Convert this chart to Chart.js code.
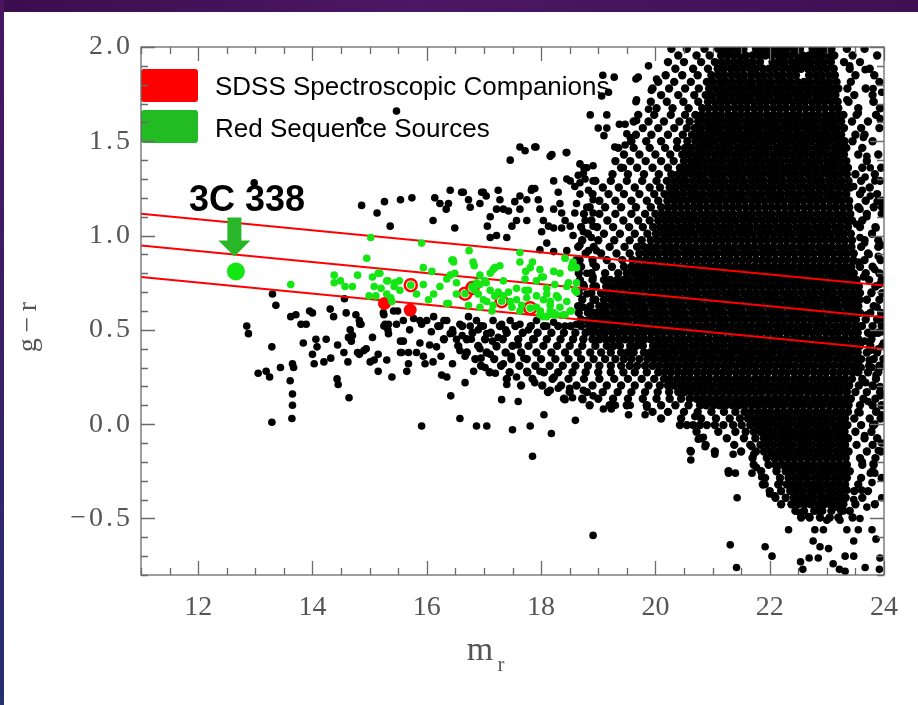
<!DOCTYPE html>
<html>
<head>
<meta charset="utf-8">
<script src="https://cdn.jsdelivr.net/npm/chart.js@4.4.1/dist/chart.umd.min.js"></script>
<style>
html, body { margin: 0; padding: 0; background: #fff; }
#wrap { position: relative; width: 918px; height: 705px; overflow: hidden; background: #fff; }
#topbar { position: absolute; left: 0; top: 0; width: 918px; height: 12px; background: linear-gradient(90deg, #3b0d4d, #4c1764 45%, #3e1053); }
#leftbar { position: absolute; left: 0; top: 0; width: 4px; height: 705px; background: linear-gradient(180deg, #4a1560, #3a1f66 50%, #24306f); }
#chart { position: absolute; left: 0; top: 0; }
</style>
</head>
<body>
<div id="wrap">
  <div id="topbar"></div>
  <div id="leftbar"></div>
  <canvas id="chart" width="918" height="705"></canvas>
</div>
<script>
// axis ticks
var xTicks = [12, 14, 16, 18, 20, 22, 24];
var yTicks = [-0.5, 0.0, 0.5, 1.0, 1.5, 2.0];

// red sequence fit: centre line at m_r = 11 and 24, and half width in g-r
var redSeqX = [11, 24];
var redSeqMid = [0.948, 0.567];
var redSeqHalf = 0.168;

// 3C 338 itself
var host3C338 = [[12.66, 0.81]];

// SDSS spectroscopic companions (filled = off the sequence, ring = on it)
var companionsFilled = [[15.26, 0.64], [15.71, 0.605]];
var companionsRing = [[15.72, 0.737], [16.67, 0.692], [16.80, 0.722], [17.31, 0.652], [17.81, 0.615]];

// red sequence sources (green)
var redSequence = [
  [13.62,0.74],[14.38,0.79],[14.38,0.75],[14.49,0.76],[14.57,0.73],[14.70,0.73],[14.79,0.79],[14.95,0.88],[15.02,0.99],[15.05,0.78],
  [15.15,0.80],[15.08,0.73],[15.20,0.72],[14.99,0.68],[15.32,0.76],[15.43,0.73],[15.52,0.76],[15.30,0.69],[15.37,0.67],[15.11,0.68],
  [15.91,0.96],[16.74,0.92],[17.63,0.91],[18.42,0.88],[16.44,0.87],[15.94,0.83],[16.09,0.81],[16.47,0.86],[16.83,0.84],[17.19,0.83],
  [17.11,0.80],[17.63,0.86],[17.85,0.86],[17.73,0.81],[18.04,0.78],[18.22,0.81],[18.33,0.80],[18.55,0.85],[18.62,0.83],[18.48,0.75],
  [18.62,0.75],[16.41,0.79],[16.52,0.75],[16.93,0.79],[17.04,0.75],[16.87,0.75],[15.18,0.80],[15.30,0.76],[15.44,0.75],[15.94,0.74],
  [16.23,0.73],[16.12,0.69],[16.03,0.66],[16.35,0.64],[15.39,0.65],[15.53,0.71],[15.82,0.69],[16.52,0.69],[16.79,0.73],[16.90,0.69],
  [16.99,0.66],[17.11,0.71],[17.19,0.68],[16.73,0.63],[16.93,0.62],[17.14,0.60],[17.34,0.68],[17.46,0.65],[17.57,0.66],[17.72,0.71],
  [17.75,0.67],[17.92,0.68],[18.04,0.66],[18.10,0.69],[18.16,0.63],[18.22,0.59],[18.33,0.62],[18.45,0.65],[18.53,0.60],[18.42,0.58],
  [18.04,0.57],[17.92,0.62],[18.59,0.71],[17.63,0.60],[18.53,0.83],[18.56,0.86],[18.42,0.88],[18.62,0.70],[18.27,0.68],[18.16,0.65],
  [18.51,0.60],[18.22,0.58],[17.99,0.60],[18.39,0.58],[17.28,0.84],[17.16,0.82],[17.02,0.76],[16.93,0.74],[16.84,0.71],[16.81,0.86],
  [16.46,0.87],[16.49,0.80],[16.35,0.77],[16.38,0.64],[17.05,0.65],[17.16,0.63],[17.49,0.62],[17.66,0.63],[17.78,0.71],[17.92,0.76],
  [18.01,0.78],[18.10,0.72],[18.24,0.74],[18.30,0.67],[18.45,0.73],[17.98,0.82],[17.81,0.83],[17.72,0.77],[17.57,0.72],[17.43,0.70],
  [17.34,0.76],[17.25,0.70],[18.16,0.60],[18.27,0.58],[17.98,0.58],[18.10,0.57],[15.72,0.737],[16.67,0.692],[16.80,0.722],[17.31,0.652],
  [17.81,0.615]
];

// black sources read one by one in the sparse parts of the diagram
var blackScatter = [
  [12.98,1.28],[14.86,1.16],[15.13,1.12],[15.26,1.18],[15.54,1.19],[15.36,1.05],[13.30,0.69],[13.36,0.63],[12.85,0.52],[12.88,0.48],
  [13.29,0.41],[13.05,0.27],[13.19,0.28],[13.25,0.25],[13.44,0.30],[13.65,0.32],[13.67,0.30],[13.61,0.23],[13.65,0.16],[13.65,0.10],
  [13.64,0.03],[13.29,0.01],[13.62,0.57],[13.71,0.58],[13.80,0.53],[13.89,0.53],[13.84,0.43],[13.95,0.60],[14.00,0.59],[14.06,0.45],
  [14.08,0.41],[14.00,0.37],[14.03,0.32],[14.20,0.33],[14.24,0.45],[14.32,0.35],[14.31,0.61],[14.37,0.57],[14.44,0.42],[14.55,0.38],
  [14.56,0.665],[14.59,0.59],[14.62,0.33],[14.43,0.24],[14.45,0.21],[14.64,0.14],[14.66,0.50],[14.70,0.47],[14.68,0.44],[14.76,0.58],
  [14.82,0.55],[14.85,0.53],[14.79,0.38],[14.82,0.37],[14.90,0.39],[14.94,0.40],[15.01,0.33],[15.08,0.34],[15.05,0.46],[15.15,0.37],
  [15.30,0.34],[15.15,0.28],[15.32,0.50],[15.25,0.52],[15.33,0.53],[15.25,0.58],[15.39,0.25],[15.49,0.60],[15.54,0.44],[15.54,0.38],
  [14.83,0.53],[14.63,0.46],[15.24,0.59],[15.27,0.53],[15.47,0.53],[15.33,0.48],[15.59,0.44],[15.56,0.38],[15.68,0.38],[15.68,0.32],
  [15.65,0.28],[15.77,0.56],[15.91,0.53],[15.88,0.43],[15.82,0.38],[15.94,0.36],[15.97,0.32],[16.08,0.49],[16.17,0.41],[16.11,0.33],
  [16.26,0.26],[16.35,0.25],[16.41,0.48],[16.52,0.45],[16.58,0.39],[16.67,0.36],[16.76,0.52],[16.78,0.45],[16.93,0.40],[16.82,0.28],
  [16.67,0.22],[17.02,0.30],[17.11,0.37],[17.05,0.48],[17.25,0.46],[17.22,0.41],[17.34,0.32],[17.40,0.21],[17.57,0.25],[17.31,0.13],
  [16.58,0.03],[16.87,-0.01],[17.05,-0.01],[17.50,-0.03],[17.81,-0.01],[18.18,-0.05],[17.85,-0.17],[18.60,0.02],[18.91,-0.59],[15.91,-0.01],
  [16.42,0.15],[17.89,0.22],[17.98,0.28],[17.75,0.28],[18.23,0.25],[18.42,0.13],[18.55,0.14],[18.73,0.13],[19.09,0.08],[19.23,0.08],
  [19.53,0.05],[19.82,0.05],[19.85,0.09],[19.56,0.10],[19.30,0.10],[18.91,0.15],[18.74,0.18],[18.50,0.19],[18.30,0.19],[18.16,0.18],
  [16.30,0.55],[16.45,0.50],[16.62,0.47],[16.90,0.50],[17.15,0.44],[17.38,0.50],[17.60,0.42],[17.48,0.36],[17.70,0.35],[17.88,0.45],
  [16.05,0.42],[16.25,0.36],[16.45,0.32],[16.95,0.35],[17.20,0.27],[17.60,0.12],[18.05,0.05],[16.00,0.55],[15.70,0.50],
  [15.42,0.60],[15.59,0.55],[15.88,0.55],[16.12,0.57],[16.23,0.52],[16.35,0.55],[16.58,0.53],[16.73,0.57],[16.87,0.55],[16.99,0.52],
  [17.16,0.55],[17.31,0.53],[17.46,0.55],[17.63,0.53],[17.78,0.50],[17.92,0.55],[18.10,0.52],[18.22,0.54],[18.42,0.52],[18.62,0.53],
  [18.80,0.55],[18.91,0.50],
  [15.74,1.20],[16.14,1.20],[16.23,1.17],[16.38,1.17],[16.41,1.24],[16.61,1.23],[16.73,1.19],[16.76,1.15],[16.34,1.14],[16.11,1.08],
  [16.49,1.04],[16.96,1.23],[17.04,1.21],[16.93,1.17],[17.11,1.10],[17.06,1.05],[17.25,1.24],[17.28,1.19],[17.34,1.14],[17.22,1.14],
  [17.43,1.13],[17.54,1.18],[17.63,1.21],[17.63,1.14],[17.75,1.19],[17.83,1.24],[17.89,1.25],[17.95,1.19],[17.98,1.14],[17.75,1.08],
  [17.57,1.08],[17.49,1.05],[17.40,0.99],[17.11,0.99],[17.22,1.00],[18.04,1.08],[18.01,1.02],[18.13,1.05],[18.22,1.04],[18.22,1.29],
  [18.19,1.43],[18.45,1.44],[17.63,1.47],[17.72,1.45],[17.89,1.47],[17.46,1.40],[18.30,1.23],[18.33,1.17],[18.36,1.12],[18.22,1.14],
  [18.42,1.08],[18.36,1.04],[18.51,1.05],[18.56,1.00],[18.59,1.12],[18.62,1.17],[18.68,1.22],[18.74,1.33],[18.80,1.36],[18.91,1.37],
  [18.68,1.38],[18.45,1.30],[18.91,1.29],[18.68,1.28],[18.83,1.24],[18.91,1.19],[18.80,1.15],[18.91,1.12],[18.77,1.08],[18.91,1.05],
  [18.74,1.02],[18.88,0.99],[18.68,0.95],[18.83,0.92],[18.97,0.92],[18.45,0.92],[18.10,0.96],[18.22,0.915],[17.98,0.925],[18.68,0.87],
  [18.91,0.85],[18.80,0.80],[18.91,0.78],[18.74,0.74],[18.91,0.73],[18.80,0.69],[18.91,0.66],[18.74,0.62],[18.86,0.59],[18.97,0.55],
  [19.08,1.85],[19.28,1.84],[19.06,1.74],[19.18,1.76],[19.66,1.83],[19.66,1.71],[18.86,1.64],[19.15,1.64],[19.00,1.57],[19.10,1.53],
  [19.15,1.57],[19.37,1.59],[19.47,1.59],[19.50,1.54],[19.56,1.52],[19.29,1.47],[19.47,1.48],[19.67,1.61],[17.91,1.47],[18.16,1.42],
  [18.44,1.44],[18.75,1.36],[18.65,1.32],[19.44,1.36],[18.51,1.29],[18.59,1.26],[18.77,1.30],[16.64,1.23],[16.99,1.23],[17.84,1.25],
  [19.70,1.84],[19.88,1.90],[20.02,1.83],[19.93,1.77],[19.67,1.72],[19.88,1.67],[15.47,1.66],[14.83,1.61],
  [20.69,0.04],[20.75,-0.08],[20.84,-0.07],[20.87,-0.12],[20.61,-0.14],[20.62,-0.19],[21.04,-0.16],[21.36,-0.16],[21.28,-0.26],[21.40,-0.26],
  [21.43,-0.39],[21.69,-0.12],[21.72,-0.16],[21.77,-0.23],[21.69,-0.26],[21.86,-0.28],[21.92,-0.32],[22.00,-0.37],[22.09,-0.38],[22.18,-0.31],
  [22.12,-0.24],[22.06,-0.17],[22.17,-0.17],[22.36,-0.17],[21.31,-0.64],[21.92,-0.65],[22.04,-0.70],[21.42,-0.76],[22.33,-0.56],[22.54,-0.73],
  [22.69,-0.71],[22.58,-0.77],[22.85,-0.71],[23.03,-0.66],[22.94,-0.56],[23.00,-0.51],[23.23,-0.51],[23.29,-0.46],[23.35,-0.56],[23.47,-0.62],
  [23.55,-0.56],[23.58,-0.50],[23.70,-0.44],[23.79,-0.56],[23.86,-0.61],[23.93,-0.71],[23.67,-0.76],[23.92,-0.77],[23.32,-0.70],[23.47,-0.70],
  [23.22,-0.77],[23.32,-0.78],[23.11,-0.74],[22.88,-0.65],[22.76,-0.62],[22.79,-0.56],[22.68,-0.49],[22.85,-0.46],[22.53,-0.47],[22.44,-0.40],
  [22.59,-0.40],[22.73,-0.37],[22.88,-0.32],[23.03,-0.40],[23.17,-0.44],[23.47,-0.40],[23.35,-0.35],[23.61,-0.35],[23.79,-0.31],[23.84,-0.26],
  [23.96,-0.39],[23.81,-0.21],[23.96,-0.10],[23.81,-0.01],[23.87,0.07],[23.96,0.05],[23.81,0.20],[23.93,0.20],[23.79,0.30],[23.93,0.30],
  [23.76,0.39],[23.96,0.49],[23.99,0.43],
  [23.67,1.88],[23.81,1.78],[23.96,1.76],[23.81,1.71],[23.93,1.62],[23.64,1.52],[23.70,1.42],[23.76,1.36],[23.67,1.31],[23.84,1.29],
  [23.96,1.15],[23.76,1.21],[23.47,1.26],[23.58,1.14],[23.79,1.01],[23.90,0.89],[23.58,0.99],[23.40,1.90],[23.35,1.72],[23.55,1.65],
  [23.62,1.24],[23.88,1.18],[23.70,1.10],[23.52,1.06],[23.86,1.04],[23.66,0.96],[23.96,0.95],[23.74,0.90],[23.55,0.86],[23.84,0.82],
  [23.64,0.78],[23.92,0.74],[23.78,0.70],[23.58,0.66],[23.88,0.62],[23.70,0.58],[23.96,0.56],[23.62,0.52],[23.82,0.48],[23.66,0.44],
  [23.90,0.40],[23.74,0.34],[23.60,0.30],[23.86,0.26],[23.68,0.22],[23.94,0.15],[23.72,0.12],[23.58,0.06],[23.84,0.00],[23.66,-0.06],
  [23.90,-0.14],[23.62,-0.20],[23.76,-0.26]
];

var cloudRowY = [1.990,1.955,1.920,1.885,1.850,1.815,1.780,1.745,1.710,1.675,1.640,1.605,1.570,1.535,1.500,1.465,1.430,1.395,1.360,1.325,
  1.290,1.255,1.220,1.185,1.150,1.115,1.080,1.045,1.010,0.975,0.940,0.905,0.870,0.835,0.800,0.765,0.730,0.695,0.660,0.625,
  0.590,0.555,0.520,0.485,0.450,0.415,0.380,0.345,0.310,0.275,0.240,0.205,0.170,0.135,0.100,0.065,0.030,-0.005,-0.040,-0.075,
  -0.110,-0.145,-0.180,-0.215,-0.250,-0.285,-0.320,-0.355,-0.390,-0.425,-0.460,-0.495];

var cloudRowX = [
  [20.28,20.55,20.86,21.10,21.21,21.31,21.43,21.54,21.76,21.87,21.97,22.09,22.20,22.29,22.42,22.53,22.75,22.86,22.95,23.08,23.35,23.66],
  [20.40,20.72,20.95,21.15,21.26,21.37,21.48,21.58,21.70,21.81,21.92,22.03,22.15,22.25,22.36,22.48,22.58,22.69,22.80,22.91,23.03,23.13,23.45,23.88],
  [20.22,20.50,20.80,21.04,21.16,21.26,21.38,21.49,21.60,21.71,21.83,22.05,22.16,22.27,22.39,22.50,22.61,22.72,22.84,22.95,23.07,23.30,23.58],
  [20.35,20.66,20.92,21.09,21.20,21.32,21.43,21.54,21.66,21.76,21.88,21.99,22.10,22.22,22.33,22.44,22.55,22.67,22.78,22.89,23.00,23.12,23.40,23.75],
  [20.18,20.47,20.74,20.98,21.10,21.21,21.33,21.44,21.55,21.67,21.78,21.89,22.01,22.12,22.23,22.35,22.46,22.69,22.80,22.91,23.03,23.14,23.50,23.83],
  [20.05,20.33,20.62,20.90,21.01,21.13,21.24,21.35,21.47,21.58,21.69,21.81,21.92,22.03,22.15,22.26,22.37,22.49,22.60,22.71,22.83,22.94,23.05,23.17,23.42,23.92],
  [19.95,20.24,20.52,20.76,20.94,21.06,21.17,21.29,21.40,21.51,21.63,21.74,21.85,21.97,22.08,22.19,22.31,22.42,22.53,22.65,22.76,22.87,22.99,23.10,23.20,23.36,23.68],
  [20.10,20.40,20.68,20.88,20.99,21.11,21.22,21.33,21.45,21.56,21.67,21.79,21.90,22.01,22.13,22.24,22.35,22.47,22.58,22.69,22.81,22.92,23.03,23.15,23.48,23.80],
  [19.92,20.20,20.49,20.75,20.92,21.04,21.15,21.26,21.38,21.49,21.60,21.72,21.83,21.94,22.06,22.17,22.28,22.40,22.51,22.62,22.74,22.85,22.96,23.08,23.19,23.38,23.82],
  [20.02,20.30,20.58,20.82,20.93,21.05,21.16,21.27,21.39,21.50,21.61,21.73,21.84,21.95,22.07,22.18,22.29,22.41,22.52,22.63,22.75,22.86,22.97,23.09,23.20,23.55,23.93],
  [19.70,19.98,20.27,20.52,20.70,20.81,20.93,21.04,21.15,21.27,21.38,21.49,21.61,21.72,21.83,21.95,22.06,22.17,22.29,22.40,22.51,22.63,22.74,22.85,22.97,23.08,23.19,23.29,23.52,23.86],
  [19.62,19.88,20.15,20.42,20.60,20.75,20.87,20.98,21.09,21.21,21.32,21.43,21.55,21.66,21.77,21.89,22.00,22.11,22.23,22.34,22.45,22.57,22.68,22.79,22.91,23.02,23.13,23.25,23.44,23.72],
  [19.78,20.05,20.33,20.55,20.69,20.80,20.92,21.03,21.14,21.26,21.37,21.48,21.60,21.71,21.82,21.94,22.05,22.16,22.28,22.39,22.50,22.62,22.73,22.84,22.96,23.07,23.18,23.30,23.60,23.92],
  [19.66,19.93,20.22,20.48,20.64,20.76,20.87,20.98,21.10,21.21,21.32,21.44,21.55,21.66,21.78,21.89,22.00,22.12,22.23,22.34,22.46,22.57,22.68,22.80,22.91,23.02,23.14,23.25,23.50,23.66],
  [19.58,19.84,20.10,20.38,20.56,20.70,20.82,20.93,21.04,21.16,21.27,21.38,21.50,21.61,21.72,21.84,21.95,22.06,22.18,22.29,22.40,22.52,22.63,22.74,22.86,22.97,23.08,23.20,23.31,23.45,23.80],
  [19.35,19.62,19.90,20.17,20.38,20.52,20.63,20.75,20.86,20.97,21.09,21.20,21.31,21.43,21.54,21.65,21.77,21.88,21.99,22.11,22.22,22.33,22.45,22.56,22.67,22.79,22.90,23.01,23.13,23.24,23.34,23.62],
  [19.45,19.72,20.00,20.26,20.47,20.58,20.70,20.81,20.92,21.04,21.15,21.26,21.38,21.49,21.60,21.72,21.83,21.94,22.06,22.17,22.28,22.40,22.51,22.62,22.74,22.85,22.96,23.08,23.19,23.30,23.55,23.90],
  [19.30,19.56,19.83,20.10,20.32,20.50,20.62,20.73,20.84,20.96,21.07,21.18,21.30,21.41,21.52,21.64,21.75,21.86,21.98,22.09,22.20,22.32,22.43,22.54,22.66,22.77,22.88,23.00,23.11,23.22,23.34,23.70],
  [19.40,19.68,19.95,20.22,20.43,20.55,20.66,20.77,20.89,21.00,21.11,21.23,21.34,21.45,21.57,21.68,21.79,21.91,22.02,22.13,22.25,22.36,22.47,22.59,22.70,22.81,22.93,23.04,23.15,23.27,23.37,23.62,23.95],
  [19.25,19.52,19.80,20.06,20.28,20.40,20.51,20.63,20.74,20.85,20.97,21.08,21.19,21.31,21.42,21.53,21.65,21.76,21.87,21.99,22.10,22.21,22.33,22.44,22.55,22.67,22.78,22.89,23.01,23.12,23.23,23.35,23.50,23.84],
  [18.95,19.22,19.50,19.77,20.02,20.20,20.32,20.43,20.54,20.66,20.77,20.88,21.00,21.11,21.22,21.34,21.45,21.56,21.68,21.79,21.90,22.02,22.13,22.24,22.36,22.47,22.58,22.70,22.81,22.92,23.04,23.15,23.26,23.38,23.60,23.93],
  [19.08,19.36,19.64,19.90,20.08,20.25,20.36,20.48,20.59,20.70,20.82,20.93,21.04,21.16,21.27,21.38,21.50,21.61,21.72,21.84,21.95,22.06,22.18,22.29,22.40,22.52,22.63,22.74,22.86,22.97,23.08,23.20,23.31,23.41,23.75],
  [18.90,19.18,19.45,19.72,19.98,20.16,20.28,20.39,20.50,20.62,20.73,20.84,20.96,21.07,21.18,21.30,21.41,21.52,21.64,21.75,21.86,21.98,22.09,22.20,22.32,22.43,22.54,22.66,22.77,22.88,23.00,23.11,23.22,23.34,23.58,23.88],
  [19.02,19.30,19.58,19.85,20.05,20.21,20.33,20.44,20.55,20.67,20.78,20.89,21.01,21.12,21.23,21.35,21.46,21.57,21.69,21.80,21.91,22.03,22.14,22.25,22.37,22.48,22.59,22.71,22.82,22.93,23.05,23.16,23.27,23.39,23.68,23.97],
  [18.85,19.12,19.40,19.66,19.92,20.10,20.22,20.33,20.44,20.56,20.67,20.78,20.90,21.01,21.12,21.24,21.35,21.46,21.58,21.69,21.80,21.92,22.03,22.14,22.26,22.37,22.48,22.60,22.71,22.82,22.94,23.05,23.16,23.28,23.39,23.55,23.82],
  [18.75,19.02,19.30,19.58,19.82,20.00,20.12,20.23,20.34,20.46,20.57,20.68,20.80,20.91,21.02,21.14,21.25,21.36,21.48,21.59,21.70,21.82,21.93,22.04,22.16,22.27,22.38,22.50,22.61,22.72,22.84,22.95,23.06,23.18,23.29,23.41,23.70,23.96],
  [18.88,19.16,19.44,19.70,19.90,20.05,20.17,20.28,20.39,20.51,20.62,20.73,20.85,20.96,21.07,21.19,21.30,21.41,21.53,21.64,21.75,21.87,21.98,22.09,22.21,22.32,22.43,22.55,22.66,22.77,22.89,23.00,23.11,23.23,23.34,23.44,23.62],
  [18.70,18.98,19.26,19.54,19.78,19.96,20.08,20.19,20.30,20.42,20.53,20.64,20.76,20.87,20.98,21.10,21.21,21.32,21.44,21.55,21.66,21.78,21.89,22.00,22.12,22.23,22.34,22.46,22.57,22.68,22.80,22.91,23.02,23.14,23.25,23.37,23.58,23.85],
  [18.82,19.10,19.38,19.64,19.86,20.01,20.13,20.24,20.35,20.47,20.58,20.69,20.81,20.92,21.03,21.15,21.26,21.37,21.49,21.60,21.71,21.83,21.94,22.05,22.17,22.28,22.39,22.51,22.62,22.73,22.85,22.96,23.07,23.19,23.30,23.42,23.79],
  [18.72,19.00,19.28,19.55,19.76,19.92,20.04,20.15,20.26,20.38,20.49,20.60,20.72,20.83,20.94,21.06,21.17,21.28,21.40,21.51,21.62,21.74,21.85,21.96,22.08,22.19,22.30,22.42,22.53,22.64,22.76,22.87,22.98,23.10,23.21,23.32,23.44,23.66,23.90],
  [18.65,18.92,19.20,19.46,19.68,19.80,19.91,20.02,20.14,20.25,20.36,20.48,20.59,20.70,20.82,20.93,21.04,21.16,21.27,21.38,21.50,21.61,21.72,21.84,21.95,22.06,22.18,22.29,22.40,22.52,22.63,22.74,22.86,22.97,23.08,23.20,23.31,23.43,23.60,23.90],
  [18.78,19.05,19.32,19.55,19.72,19.84,19.95,20.06,20.18,20.29,20.40,20.52,20.63,20.74,20.86,20.97,21.08,21.20,21.31,21.42,21.54,21.65,21.76,21.88,21.99,22.10,22.22,22.33,22.44,22.56,22.67,22.78,22.90,23.01,23.12,23.24,23.35,23.47,23.72],
  [18.62,18.90,19.15,19.42,19.60,19.72,19.83,19.94,20.06,20.17,20.28,20.40,20.51,20.62,20.74,20.85,20.96,21.08,21.19,21.30,21.42,21.53,21.64,21.76,21.87,21.98,22.10,22.21,22.32,22.44,22.55,22.66,22.78,22.89,23.00,23.12,23.23,23.34,23.46,23.66,23.94],
  [18.70,18.96,19.24,19.45,19.58,19.69,19.81,19.92,20.03,20.15,20.26,20.37,20.49,20.60,20.71,20.83,20.94,21.05,21.17,21.28,21.39,21.51,21.62,21.73,21.85,21.96,22.07,22.19,22.30,22.41,22.53,22.64,22.75,22.87,22.98,23.09,23.21,23.32,23.43,23.58,23.80],
  [18.66,18.88,19.12,19.35,19.50,19.62,19.73,19.84,19.96,20.07,20.18,20.30,20.41,20.52,20.64,20.75,20.86,20.98,21.09,21.20,21.32,21.43,21.54,21.66,21.77,21.88,22.00,22.11,22.22,22.34,22.45,22.56,22.68,22.79,22.90,23.02,23.13,23.24,23.36,23.47,23.68,23.92],
  [18.68,18.90,19.10,19.21,19.33,19.44,19.55,19.67,19.78,19.89,20.01,20.12,20.23,20.35,20.46,20.57,20.69,20.80,20.91,21.03,21.14,21.25,21.37,21.48,21.59,21.71,21.82,21.93,22.05,22.16,22.27,22.39,22.50,22.61,22.73,22.84,22.95,23.07,23.18,23.29,23.41,23.52,23.74,23.96],
  [18.75,18.96,19.14,19.26,19.37,19.48,19.60,19.71,19.82,19.94,20.05,20.16,20.28,20.39,20.50,20.62,20.73,20.84,20.96,21.07,21.18,21.30,21.41,21.52,21.64,21.75,21.86,21.98,22.09,22.20,22.32,22.43,22.54,22.66,22.77,22.88,23.00,23.11,23.22,23.34,23.45,23.56,23.85],
  [18.66,18.88,19.05,19.17,19.28,19.39,19.51,19.62,19.73,19.85,19.96,20.07,20.19,20.30,20.41,20.53,20.64,20.75,20.87,20.98,21.09,21.21,21.32,21.43,21.55,21.66,21.77,21.89,22.00,22.11,22.23,22.34,22.45,22.57,22.68,22.79,22.91,23.02,23.13,23.25,23.36,23.47,23.58,23.78,23.97],
  [18.72,18.95,19.10,19.22,19.33,19.44,19.56,19.67,19.78,19.90,20.01,20.12,20.24,20.35,20.46,20.58,20.69,20.80,20.92,21.03,21.14,21.26,21.37,21.48,21.60,21.71,21.82,21.94,22.05,22.16,22.28,22.39,22.50,22.62,22.73,22.84,22.96,23.07,23.18,23.30,23.41,23.52,23.70,23.92],
  [18.65,18.86,19.02,19.13,19.25,19.36,19.47,19.59,19.70,19.81,19.93,20.04,20.15,20.27,20.38,20.49,20.61,20.72,20.83,20.95,21.06,21.17,21.29,21.40,21.51,21.63,21.74,21.85,21.97,22.08,22.19,22.31,22.42,22.53,22.65,22.76,22.87,22.99,23.10,23.21,23.33,23.44,23.55,23.82],
  [18.66,18.82,18.94,19.05,19.16,19.28,19.39,19.50,19.62,19.73,19.84,19.96,20.07,20.18,20.30,20.41,20.52,20.64,20.75,20.86,20.98,21.09,21.20,21.32,21.43,21.54,21.66,21.77,21.88,22.00,22.11,22.22,22.34,22.45,22.56,22.68,22.79,22.90,23.02,23.13,23.24,23.36,23.47,23.58,23.76,23.95],
  [18.70,18.86,18.98,19.09,19.20,19.32,19.43,19.54,19.66,19.77,19.88,20.00,20.11,20.22,20.34,20.45,20.56,20.68,20.79,20.90,21.02,21.13,21.24,21.36,21.47,21.58,21.70,21.81,21.92,22.04,22.15,22.26,22.38,22.49,22.60,22.72,22.83,22.94,23.06,23.17,23.28,23.40,23.51,23.68,23.88],
  [16.20,16.62,16.95,17.28,17.55,17.82,18.05,18.30,18.52,18.70,18.84,18.95,19.07,19.18,19.29,19.41,19.52,19.63,19.75,19.86,19.97,20.09,20.20,20.31,20.43,20.54,20.65,20.77,20.88,20.99,21.11,21.22,21.33,21.45,21.56,21.67,21.79,21.90,22.01,22.13,22.24,22.35,22.47,22.58,22.69,22.81,22.92,23.03,23.15,23.26,23.37,23.49,23.60,23.80,23.96],
  [16.45,16.80,17.12,17.40,17.68,17.94,18.18,18.40,18.60,18.78,18.90,19.01,19.12,19.24,19.35,19.46,19.58,19.69,19.80,19.92,20.03,20.14,20.26,20.37,20.48,20.60,20.71,20.82,20.94,21.05,21.16,21.28,21.39,21.50,21.62,21.73,21.84,21.96,22.07,22.18,22.30,22.41,22.52,22.64,22.75,22.86,22.98,23.09,23.20,23.32,23.43,23.54,23.72,23.90],
  [16.30,16.70,17.02,17.33,17.60,17.86,18.10,18.34,18.56,18.74,18.90,19.02,19.13,19.24,19.36,19.47,19.58,19.70,19.81,19.92,20.04,20.15,20.26,20.38,20.49,20.60,20.72,20.83,20.94,21.06,21.17,21.28,21.40,21.51,21.62,21.74,21.85,21.96,22.08,22.19,22.30,22.42,22.53,22.64,22.76,22.87,22.98,23.10,23.21,23.32,23.44,23.55,23.78],
  [16.55,16.90,17.22,17.50,17.78,18.04,18.28,18.50,18.72,18.95,19.15,19.27,19.38,19.56,19.67,19.78,19.96,20.07,20.18,20.30,20.41,20.52,20.64,20.75,20.86,20.98,21.09,21.20,21.32,21.43,21.54,21.66,21.77,21.88,22.00,22.11,22.22,22.34,22.45,22.56,22.68,22.79,22.90,23.02,23.13,23.24,23.36,23.47,23.58,23.76,23.97],
  [16.70,17.05,17.38,17.65,17.92,18.18,18.42,18.64,18.86,19.05,19.22,19.40,19.51,19.62,19.80,19.91,20.02,20.14,20.25,20.36,20.48,20.59,20.70,20.82,20.93,21.04,21.16,21.27,21.38,21.50,21.61,21.72,21.84,21.95,22.06,22.18,22.29,22.40,22.52,22.63,22.74,22.86,22.97,23.08,23.20,23.31,23.42,23.54,23.70,23.88],
  [16.85,17.18,17.48,17.75,18.00,18.25,18.48,18.70,18.92,19.12,19.30,19.45,19.58,19.72,19.86,19.98,20.10,20.21,20.32,20.44,20.55,20.66,20.78,20.89,21.00,21.12,21.23,21.34,21.46,21.57,21.68,21.80,21.91,22.02,22.14,22.25,22.36,22.48,22.59,22.70,22.82,22.93,23.04,23.16,23.27,23.38,23.50,23.60,23.82,23.99],
  [16.95,17.30,17.62,17.90,18.15,18.38,18.60,18.82,19.02,19.22,19.40,19.55,19.68,19.82,19.95,20.06,20.18,20.29,20.40,20.52,20.63,20.74,20.86,20.97,21.08,21.20,21.31,21.42,21.54,21.65,21.76,21.88,21.99,22.10,22.22,22.33,22.44,22.56,22.67,22.78,22.90,23.01,23.12,23.24,23.35,23.46,23.56,23.74,23.92],
  [17.10,17.45,17.76,18.05,18.30,18.55,18.78,19.00,19.22,19.44,19.64,19.85,20.05,20.16,20.27,20.39,20.50,20.61,20.73,20.84,20.95,21.07,21.18,21.29,21.41,21.52,21.63,21.75,21.86,21.97,22.09,22.20,22.31,22.43,22.54,22.65,22.77,22.88,22.99,23.11,23.22,23.33,23.45,23.55,23.72,23.90],
  [17.40,17.85,18.20,18.48,18.75,19.02,19.28,19.52,19.76,19.98,20.15,20.26,20.38,20.49,20.60,20.72,20.83,20.94,21.06,21.17,21.28,21.40,21.51,21.62,21.74,21.85,21.96,22.08,22.19,22.30,22.42,22.53,22.64,22.76,22.87,22.98,23.10,23.21,23.32,23.44,23.62,23.86],
  [17.65,18.02,18.35,18.62,18.90,19.15,19.40,19.64,19.88,20.08,20.22,20.33,20.45,20.56,20.67,20.79,20.90,21.01,21.13,21.24,21.35,21.47,21.58,21.69,21.81,21.92,22.03,22.15,22.26,22.37,22.49,22.60,22.71,22.83,22.94,23.05,23.17,23.28,23.39,23.56,23.80],
  [18.12,18.50,18.80,19.08,19.34,19.58,19.82,20.04,20.24,20.40,20.51,20.63,20.74,20.85,20.97,21.08,21.19,21.31,21.42,21.53,21.65,21.76,21.87,21.99,22.10,22.21,22.33,22.44,22.55,22.67,22.78,22.89,23.01,23.12,23.23,23.35,23.50,23.70,23.93],
  [18.40,18.72,19.00,19.26,19.52,19.78,20.02,20.25,20.45,20.60,20.72,20.83,20.94,21.06,21.17,21.28,21.40,21.51,21.62,21.74,21.85,21.96,22.08,22.19,22.30,22.42,22.53,22.64,22.76,22.87,22.98,23.10,23.21,23.32,23.42,23.64,23.85],
  [18.85,19.20,19.50,19.85,20.10,20.35,20.58,20.78,20.89,21.01,21.12,21.23,21.35,21.46,21.57,21.69,21.80,21.91,22.03,22.14,22.25,22.37,22.48,22.59,22.71,22.82,22.93,23.05,23.16,23.27,23.38,23.58,23.80,23.96],
  [19.95,20.22,20.50,20.74,20.98,21.20,21.40,21.56,21.67,21.79,21.90,22.01,22.13,22.24,22.35,22.47,22.58,22.69,22.81,22.92,23.03,23.15,23.26,23.37,23.55,23.86],
  [20.10,20.45,20.80,21.06,21.30,21.48,21.62,21.73,21.85,21.96,22.07,22.19,22.30,22.41,22.53,22.64,22.75,22.87,22.98,23.09,23.21,23.32,23.48,23.75,23.94],
  [20.43,20.55,20.66,20.78,20.90,21.04,21.19,21.36,21.51,21.66,21.78,21.89,22.00,22.12,22.23,22.34,22.46,22.57,22.68,22.80,22.91,23.02,23.14,23.25,23.36,23.60,23.81],
  [20.72,21.10,21.40,21.58,21.72,21.84,21.95,22.06,22.18,22.29,22.40,22.52,22.63,22.74,22.86,22.97,23.08,23.20,23.31,23.50,23.78],
  [20.80,21.25,21.55,21.75,21.90,22.01,22.13,22.24,22.35,22.47,22.58,22.69,22.81,22.92,23.03,23.15,23.26,23.37,23.66,23.88],
  [20.88,21.38,21.66,21.84,21.96,22.07,22.19,22.30,22.41,22.53,22.64,22.75,22.87,22.98,23.09,23.21,23.32,23.52,23.80],
  [20.62,21.04,21.50,21.76,21.90,22.02,22.14,22.25,22.36,22.48,22.59,22.70,22.82,22.93,23.04,23.16,23.27,23.38,23.70,23.95],
  [21.70,21.95,22.08,22.19,22.31,22.42,22.53,22.65,22.76,22.87,22.99,23.10,23.21,23.33,23.58,23.85],
  [21.72,21.98,22.10,22.22,22.33,22.44,22.56,22.67,22.78,22.90,23.01,23.12,23.24,23.35,23.62,23.82],
  [21.28,21.85,22.12,22.28,22.39,22.51,22.62,22.73,22.85,22.96,23.07,23.19,23.30,23.40,23.80],
  [21.92,22.18,22.33,22.45,22.56,22.67,22.79,22.90,23.01,23.13,23.24,23.35,23.60,23.96],
  [21.88,22.15,22.30,22.41,22.52,22.64,22.75,22.86,22.98,23.09,23.20,23.32,23.55],
  [22.00,22.20,22.36,22.47,22.58,22.70,22.81,22.92,23.04,23.15,23.26,23.48,23.72],
  [22.10,22.28,22.42,22.54,22.65,22.76,22.88,22.99,23.10,23.22,23.33,23.62],
  [22.20,22.38,22.50,22.61,22.72,22.84,22.95,23.06,23.18,23.29,23.50,23.84],
  [22.45,22.60,22.78,22.92,23.08,23.25,23.40],
  [22.55,22.70,22.88,23.05,23.20,23.45]
];

function toPoints(list) {
    return list.map(function (p) { return { x: p[0], y: p[1] }; });
}

var cloudPoints = [];
for (var i = 0; i < cloudRowY.length; i++) {
    for (var j = 0; j < cloudRowX[i].length; j++) {
        cloudPoints.push({ x: cloudRowX[i][j], y: cloudRowY[i] });
    }
}

function seqLine(offset) {
    return redSeqX.map(function (x, k) { return { x: x, y: redSeqMid[k] + offset }; });
}

var GREEN = '#14e614';
var RED = '#ff0000';
var AXIS = '#6a6a6a';
var SERIF = '"Liberation Serif", "DejaVu Serif", serif';
var SANS = '"Liberation Sans", Arial, sans-serif';

// frame, inward ticks, legend and the 3C 338 label
var decor = {
    id: 'decor',
    beforeDatasetsDraw: function (chart) {
        var ctx = chart.ctx;
        ctx.save();
        ctx.fillStyle = RED;
        ctx.beginPath(); ctx.roundRect(141, 69, 57, 33, 3); ctx.fill();
        ctx.fillStyle = '#22bb22';
        ctx.beginPath(); ctx.roundRect(141, 110, 57, 33, 3); ctx.fill();
        ctx.fillStyle = '#000';
        ctx.font = '26px ' + SANS;
        ctx.textBaseline = 'alphabetic';
        ctx.fillText('SDSS Spectroscopic Companions', 215, 95);
        ctx.fillText('Red Sequence Sources', 215, 137);
        ctx.restore();
    },
    afterDatasetsDraw: function (chart) {
        var ctx = chart.ctx;
        var a = chart.chartArea;
        var xs = chart.scales.x, ys = chart.scales.y;
        ctx.save();
        ctx.strokeStyle = AXIS;
        ctx.lineWidth = 1.3;
        ctx.strokeRect(a.left, a.top, a.right - a.left, a.bottom - a.top);
        ctx.beginPath();
        for (var v = 11; v <= 24.001; v += 0.5) {
            var px = Math.round(xs.getPixelForValue(v)) + 0.5;
            var len = (Math.abs(v % 2) < 0.01) ? 14 : 7;
            ctx.moveTo(px, a.bottom); ctx.lineTo(px, a.bottom - len);
            ctx.moveTo(px, a.top); ctx.lineTo(px, a.top + len);
        }
        for (var k = -8; k <= 20; k++) {
            var py = Math.round(ys.getPixelForValue(k / 10)) + 0.5;
            var l2 = (k % 5 === 0) ? 14 : 7;
            ctx.moveTo(a.left, py); ctx.lineTo(a.left + l2, py);
            ctx.moveTo(a.right, py); ctx.lineTo(a.right - l2, py);
        }
        ctx.stroke();

        // 3C 338 label and arrow
        var cx = xs.getPixelForValue(host3C338[0][0]);
        var cy = ys.getPixelForValue(host3C338[0][1]);
        ctx.fillStyle = '#000';
        ctx.font = 'bold 36px ' + SANS;
        ctx.fillText('3C 338', cx - 47, cy - 60);
        var ax = cx - 1.5;
        ctx.fillStyle = '#29b629';
        ctx.beginPath();
        ctx.moveTo(ax - 7, cy - 54);
        ctx.lineTo(ax + 7, cy - 54);
        ctx.lineTo(ax + 7, cy - 31);
        ctx.lineTo(ax + 16, cy - 31);
        ctx.lineTo(ax, cy - 15);
        ctx.lineTo(ax - 16, cy - 31);
        ctx.lineTo(ax - 7, cy - 31);
        ctx.closePath();
        ctx.fill();

        // axis titles
        ctx.fillStyle = '#555';
        ctx.textAlign = 'center';
        ctx.textBaseline = 'alphabetic';
        ctx.font = '34px ' + SERIF;
        ctx.fillText('m', 480, 660);
        ctx.font = '20px ' + SERIF;
        ctx.fillText('r', 501, 671);
        ctx.translate(36, 327);
        ctx.rotate(-Math.PI / 2);
        ctx.font = '28px ' + SERIF;
        ctx.fillText('g\u2009\u2212\u2009r', 0, 0);
        ctx.restore();
        // the IDL style labels on the g-r axis are a little wider
        ctx.letterSpacing = '3px';
    },
    afterDraw: function (chart) {
        chart.ctx.letterSpacing = '0px';
    }
};

var grafico = new Chart(document.getElementById('chart').getContext('2d'), {
    type: 'scatter',
    data: {
        datasets: [{
            label: 'SDSS sources (cloud)',
            data: cloudPoints,
            pointRadius: 4.2,
            pointBackgroundColor: '#000',
            pointBorderWidth: 0,
            order: 7
        }, {
            label: 'SDSS sources',
            data: toPoints(blackScatter),
            pointRadius: 3.8,
            pointBackgroundColor: '#000',
            pointBorderWidth: 0,
            order: 6
        }, {
            label: 'red sequence upper',
            type: 'line',
            data: seqLine(redSeqHalf),
            showLine: true,
            borderColor: RED,
            borderWidth: 2,
            pointRadius: 0,
            order: 5
        }, {
            label: 'red sequence',
            type: 'line',
            data: seqLine(0),
            showLine: true,
            borderColor: RED,
            borderWidth: 2,
            pointRadius: 0,
            order: 5
        }, {
            label: 'red sequence lower',
            type: 'line',
            data: seqLine(-redSeqHalf),
            showLine: true,
            borderColor: RED,
            borderWidth: 2,
            pointRadius: 0,
            order: 5
        }, {
            label: 'SDSS Spectroscopic Companions',
            data: toPoints(companionsFilled),
            pointRadius: 6.5,
            pointBackgroundColor: RED,
            pointBorderWidth: 0,
            order: 4
        }, {
            label: 'SDSS Spectroscopic Companions (on sequence)',
            data: toPoints(companionsRing),
            pointRadius: 6,
            pointBackgroundColor: '#fff',
            pointBorderColor: RED,
            pointBorderWidth: 2.5,
            order: 4
        }, {
            label: 'Red Sequence Sources',
            data: toPoints(redSequence),
            pointRadius: 3.8,
            pointBackgroundColor: GREEN,
            pointBorderWidth: 0,
            order: 3
        }, {
            label: '3C 338',
            data: toPoints(host3C338),
            pointRadius: 9,
            pointBackgroundColor: GREEN,
            pointBorderWidth: 0,
            order: 2
        }]
    },
    options: {
        responsive: false,
        animation: false,
        devicePixelRatio: 1,
        events: [],
        layout: { padding: { left: 0, top: 47, right: 34, bottom: 0 } },
        plugins: {
            legend: { display: false },
            tooltip: { enabled: false }
        },
        scales: {
            x: {
                type: 'linear',
                min: 11,
                max: 24,
                grid: { display: false, drawTicks: false },
                border: { display: false },
                afterBuildTicks: function (s) { s.ticks = xTicks.map(function (v) { return { value: v }; }); },
                afterFit: function (s) { s.height = 130; },
                ticks: {
                    color: '#555',
                    font: { family: SERIF, size: 28 },
                    padding: 16,
                    maxRotation: 0,
                    autoSkip: false
                }
            },
            y: {
                type: 'linear',
                min: -0.8,
                max: 2.0,
                grid: { display: false, drawTicks: false },
                border: { display: false },
                afterBuildTicks: function (s) { s.ticks = yTicks.map(function (v) { return { value: v }; }); },
                afterFit: function (s) { s.width = 141; },
                ticks: {
                    z: 1,
                    color: '#555',
                    font: { family: SERIF, size: 28 },
                    padding: 8,
                    autoSkip: false,
                    callback: function (v) { return Number(v).toFixed(1).replace('-', '\u2212'); }
                }
            }
        }
    },
    plugins: [decor]
});
</script>
</body>
</html>
